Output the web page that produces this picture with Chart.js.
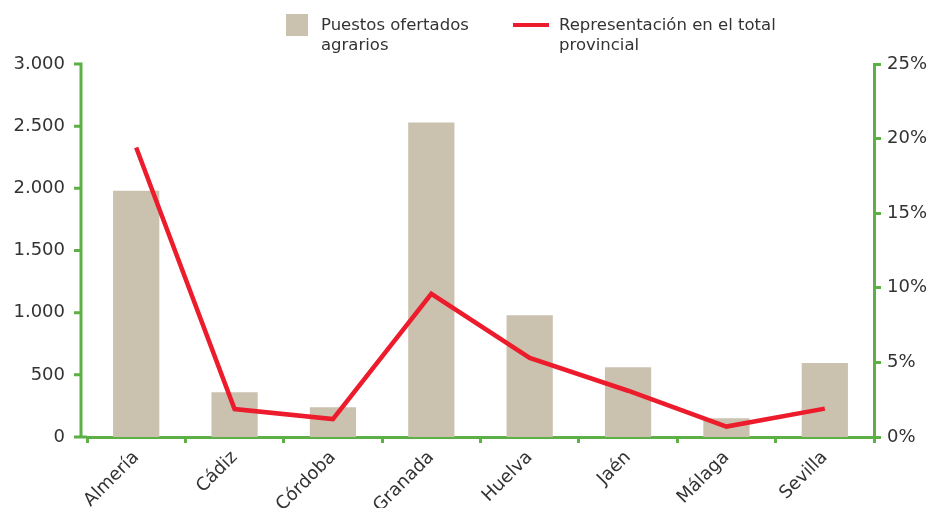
<!DOCTYPE html>
<html><head><meta charset="utf-8">
<script src="https://cdn.jsdelivr.net/npm/chart.js@4"></script>
<style>
html,body{margin:0;padding:0;background:#fff;}
#wrap{position:relative;width:935px;height:508px;}
canvas{position:absolute;left:0;top:0;}
.leg{position:absolute;font-family:"DejaVu Sans",sans-serif;font-size:16.5px;line-height:20px;color:#333;}
.sw{position:absolute;}
</style></head>
<body>
<div id="wrap">
<canvas id="c" width="935" height="508"></canvas>
<div class="sw" id="sw1" style="left:286px;top:14px;width:22px;height:22px;"></div>
<div class="leg" id="lg1" style="left:321px;top:15px;"></div>
<div class="sw" id="sw2" style="left:513px;top:23px;width:36px;height:4px;"></div>
<div class="leg" id="lg2" style="left:559px;top:15px;"></div>
</div>
<script>
const categories = ["Almería","Cádiz","Córdoba","Granada","Huelva","Jaén","Málaga","Sevilla"];
const puestosOfertados = [1980, 360, 240, 2530, 980, 560, 150, 595];
const representacionPct = [19.4, 1.87, 1.2, 9.6, 5.3, 3.1, 0.7, 1.9];
const seriesNames = [["Puestos ofertados","agrarios"], ["Representación en el total","provincial"]];
const leftTicks = [0, 500, 1000, 1500, 2000, 2500, 3000];
const rightTicks = [0, 5, 10, 15, 20, 25];

const BAR = "#CBC1AF", RED = "#EC1C2D", GREEN = "#5DB046", TXT = "#333333";
document.getElementById('sw1').style.background = BAR;
document.getElementById('sw2').style.background = RED;
document.getElementById('lg1').innerHTML = seriesNames[0].join('<br>');
document.getElementById('lg2').innerHTML = seriesNames[1].join('<br>');

const font = {family: "'DejaVu Sans', sans-serif", size: 18};
const fmt = v => v.toLocaleString('de-DE');
const AXIS_X = 81;

// draws the left axis line slightly left of the category area, as in the reference
const leftAxisPlugin = {
  id: 'leftAxis',
  afterDraw(chart) {
    const ctx = chart.ctx, y = chart.scales.y, area = chart.chartArea;
    ctx.save();
    ctx.strokeStyle = GREEN; ctx.lineWidth = 3;
    ctx.beginPath();
    ctx.moveTo(AXIS_X, area.top - 1.5); ctx.lineTo(AXIS_X, area.bottom + 1.5);
    ctx.moveTo(AXIS_X, area.bottom); ctx.lineTo(area.left, area.bottom);
    leftTicks.forEach(v => {
      const py = y.getPixelForValue(v);
      ctx.moveTo(AXIS_X - 7, py); ctx.lineTo(AXIS_X, py);
    });
    ctx.stroke();
    ctx.restore();
  }
};

new Chart(document.getElementById('c'), {
  data: {
    labels: categories,
    datasets: [
      {type: 'line', label: seriesNames[1].join(' '), data: representacionPct, yAxisID: 'y2',
       borderColor: RED, borderWidth: 4.5, pointRadius: 0, tension: 0, fill: false, order: 0},
      {type: 'bar', label: seriesNames[0].join(' '), data: puestosOfertados, yAxisID: 'y',
       backgroundColor: BAR, barPercentage: 0.47, categoryPercentage: 1, order: 1}
    ]
  },
  options: {
    responsive: false, animation: false,
    layout: {padding: {top: 64, left: 0, right: 0, bottom: 0}},
    plugins: {legend: {display: false}, tooltip: {enabled: false}},
    scales: {
      x: {
        offset: true,
        grid: {display: true, offset: true, drawOnChartArea: false, drawTicks: true, tickLength: 6, color: GREEN, lineWidth: 3},
        border: {display: true, color: GREEN, width: 3},
        ticks: {color: TXT, font: font, minRotation: 45, maxRotation: 45, padding: 4, autoSkip: false},
        afterFit: s => { s.height = 71; }
      },
      y: {
        position: 'left', min: 0, max: 3000,
        afterBuildTicks: s => { s.ticks = leftTicks.map(v => ({value: v})); },
        grid: {display: false},
        border: {display: false},
        ticks: {color: TXT, font: font, padding: 14, callback: v => fmt(v)},
        afterFit: s => { s.width = 87; }
      },
      y2: {
        position: 'right', min: 0, max: 25,
        afterBuildTicks: s => { s.ticks = rightTicks.map(v => ({value: v})); },
        grid: {display: true, drawOnChartArea: false, drawTicks: true, tickLength: 7, color: GREEN, lineWidth: 3},
        border: {display: true, color: GREEN, width: 3},
        ticks: {color: TXT, font: font, padding: 6, callback: v => v + '%'},
        afterFit: s => { s.width = 61; }
      }
    }
  },
  plugins: [leftAxisPlugin]
});
</script>
</body></html>
